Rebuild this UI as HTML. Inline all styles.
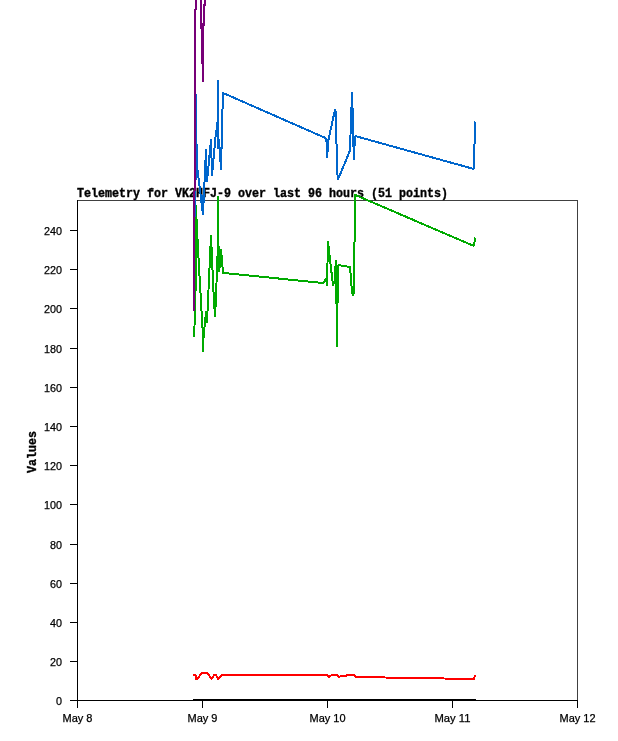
<!DOCTYPE html>
<html lang="en"><head><meta charset="utf-8"><title>Telemetry for VK2HFJ-9</title>
<style>
html,body{margin:0;padding:0;background:#fff;}
body{width:618px;height:741px;overflow:hidden;position:relative;}
svg{will-change:transform;position:absolute;left:0;top:0;display:block;}
.s{font-family:"Liberation Sans","DejaVu Sans",sans-serif;font-size:11px;fill:#000;stroke:#000;stroke-width:0.25px;}
.b{font-family:"Liberation Mono","DejaVu Sans Mono",monospace;font-size:12px;font-weight:bold;fill:#000;stroke:#000;stroke-width:0.35px;}
.l{fill:none;stroke-width:2;stroke-linejoin:miter;stroke-miterlimit:1.4;stroke-linecap:butt;}
</style></head><body>
<svg width="618" height="741" viewBox="0 0 618 741">
<rect x="0" y="0" width="618" height="741" fill="#fff"/>
<g shape-rendering="crispEdges">
<rect x="77.5" y="200.5" width="500" height="500" fill="none" stroke="#404040" stroke-width="1"/>
<line x1="77.5" y1="200" x2="77.5" y2="701" stroke="#000" stroke-width="1"/>
<line x1="77" y1="700.5" x2="578" y2="700.5" stroke="#000" stroke-width="1"/>
<line x1="70" y1="700.5" x2="77" y2="700.5" stroke="#000" stroke-width="1"/>
<line x1="70" y1="661.5" x2="77" y2="661.5" stroke="#000" stroke-width="1"/>
<line x1="70" y1="622.5" x2="77" y2="622.5" stroke="#000" stroke-width="1"/>
<line x1="70" y1="583.5" x2="77" y2="583.5" stroke="#000" stroke-width="1"/>
<line x1="70" y1="544.5" x2="77" y2="544.5" stroke="#000" stroke-width="1"/>
<line x1="70" y1="504.5" x2="77" y2="504.5" stroke="#000" stroke-width="1"/>
<line x1="70" y1="465.5" x2="77" y2="465.5" stroke="#000" stroke-width="1"/>
<line x1="70" y1="426.5" x2="77" y2="426.5" stroke="#000" stroke-width="1"/>
<line x1="70" y1="387.5" x2="77" y2="387.5" stroke="#000" stroke-width="1"/>
<line x1="70" y1="348.5" x2="77" y2="348.5" stroke="#000" stroke-width="1"/>
<line x1="70" y1="308.5" x2="77" y2="308.5" stroke="#000" stroke-width="1"/>
<line x1="70" y1="269.5" x2="77" y2="269.5" stroke="#000" stroke-width="1"/>
<line x1="70" y1="230.5" x2="77" y2="230.5" stroke="#000" stroke-width="1"/>
<line x1="77.5" y1="701" x2="77.5" y2="708" stroke="#000" stroke-width="1"/>
<line x1="202.5" y1="701" x2="202.5" y2="708" stroke="#000" stroke-width="1"/>
<line x1="327.5" y1="701" x2="327.5" y2="708" stroke="#000" stroke-width="1"/>
<line x1="452.5" y1="701" x2="452.5" y2="708" stroke="#000" stroke-width="1"/>
<line x1="577.5" y1="701" x2="577.5" y2="708" stroke="#000" stroke-width="1"/>
</g>
<g>
<text class="b" x="77" y="197" textLength="371" lengthAdjust="spacingAndGlyphs">Telemetry for VK2HFJ-9 over last 96 hours (51 points)</text>
</g>
<g shape-rendering="crispEdges">
<polyline class="l" stroke="#00aa00" points="194,337 194.5,326 195.6,288 196,205.5 196.5,218.5 198.5,258 203,337 203,352 203.5,338 206,311.5 207,322.5 211,235.5 213.5,292 215,317 215.5,308 217.5,258 218,196.5 218.5,246 219.3,272 220.5,249.5 221,267 221.4,249.5 221.5,255 222.5,267 223,273 224,273 323,283 326,279 327,285.5 327.5,263 328,241.5 333,285.5 334.5,282 335.5,266 336,260.5 336.5,304 337,346.5 337.5,305 338,265 350,267 350.5,273 351.5,286 352.5,294 353.5,295.5 354.5,244 355,194.5 355.3,195 474,246 475,237.5"/>
<polyline class="l" stroke="#0066cc" points="195,217 195.6,174 196,94.5 196.5,144 197.5,170 203,214.5 206,149.5 207,181.5 211,139.5 212,175.5 212.5,170 215.5,137 217.5,123 218,80.5 218,148.5 219,139.5 221,169.5 222.9,93 223.1,93 325.5,138 326.5,142 327,157.5 327.5,152 328,142 335,109.5 336,113 336.5,144 337.5,175 338,179.5 350,150.5 350.5,135 351.5,107 352,92.5 352.5,107 353.5,147 354,159.5 354.5,147 355,136 474,169 474.5,145 475,121.5"/>
<rect x="202" y="195" width="1" height="8" fill="#0066cc"/>
<polyline class="l" stroke="#ff0000" points="193,675 195.5,675 196,679.2 197,679.2 202,673 207,673 212,679 214,675 216,675 218,679 222,675 327,675 328.5,677 331,675.5 337,675 338.5,677 340,676.5 346,676 347,675 354.5,675 355.5,677 474,679 475,675"/>
<rect x="193" y="699" width="283" height="2" fill="#000"/>
<rect x="193" y="191" width="2" height="120" fill="#770077"/>
<rect x="194" y="9" width="2" height="182" fill="#770077"/>
<rect x="195" y="0" width="2" height="10" fill="#770077"/>
<rect x="200" y="0" width="2" height="29" fill="#770077"/>
<rect x="201" y="28" width="2" height="36" fill="#770077"/>
<rect x="202" y="23" width="2" height="59" fill="#770077"/>
<rect x="203" y="4" width="2" height="22" fill="#770077"/>
<rect x="204" y="0" width="2" height="6" fill="#770077"/>
</g>
<g>
<text class="b" transform="translate(36,473) rotate(-90)" x="0" y="0" textLength="42" lengthAdjust="spacingAndGlyphs">Values</text>
<text class="s" x="56" y="705" textLength="6" lengthAdjust="spacingAndGlyphs">0</text>
<text class="s" x="50" y="666" textLength="12" lengthAdjust="spacingAndGlyphs">20</text>
<text class="s" x="50" y="627" textLength="12" lengthAdjust="spacingAndGlyphs">40</text>
<text class="s" x="50" y="588" textLength="12" lengthAdjust="spacingAndGlyphs">60</text>
<text class="s" x="50" y="549" textLength="12" lengthAdjust="spacingAndGlyphs">80</text>
<text class="s" x="44" y="509" textLength="18" lengthAdjust="spacingAndGlyphs">100</text>
<text class="s" x="44" y="470" textLength="18" lengthAdjust="spacingAndGlyphs">120</text>
<text class="s" x="44" y="431" textLength="18" lengthAdjust="spacingAndGlyphs">140</text>
<text class="s" x="44" y="392" textLength="18" lengthAdjust="spacingAndGlyphs">160</text>
<text class="s" x="44" y="353" textLength="18" lengthAdjust="spacingAndGlyphs">180</text>
<text class="s" x="44" y="313" textLength="18" lengthAdjust="spacingAndGlyphs">200</text>
<text class="s" x="44" y="274" textLength="18" lengthAdjust="spacingAndGlyphs">220</text>
<text class="s" x="44" y="235" textLength="18" lengthAdjust="spacingAndGlyphs">240</text>
<text class="s" x="62.5" y="722" textLength="30" lengthAdjust="spacingAndGlyphs">May 8</text>
<text class="s" x="187.5" y="722" textLength="30" lengthAdjust="spacingAndGlyphs">May 9</text>
<text class="s" x="309.5" y="722" textLength="36" lengthAdjust="spacingAndGlyphs">May 10</text>
<text class="s" x="434.5" y="722" textLength="36" lengthAdjust="spacingAndGlyphs">May 11</text>
<text class="s" x="559.5" y="722" textLength="36" lengthAdjust="spacingAndGlyphs">May 12</text>
</g>
</svg>
</body></html>
